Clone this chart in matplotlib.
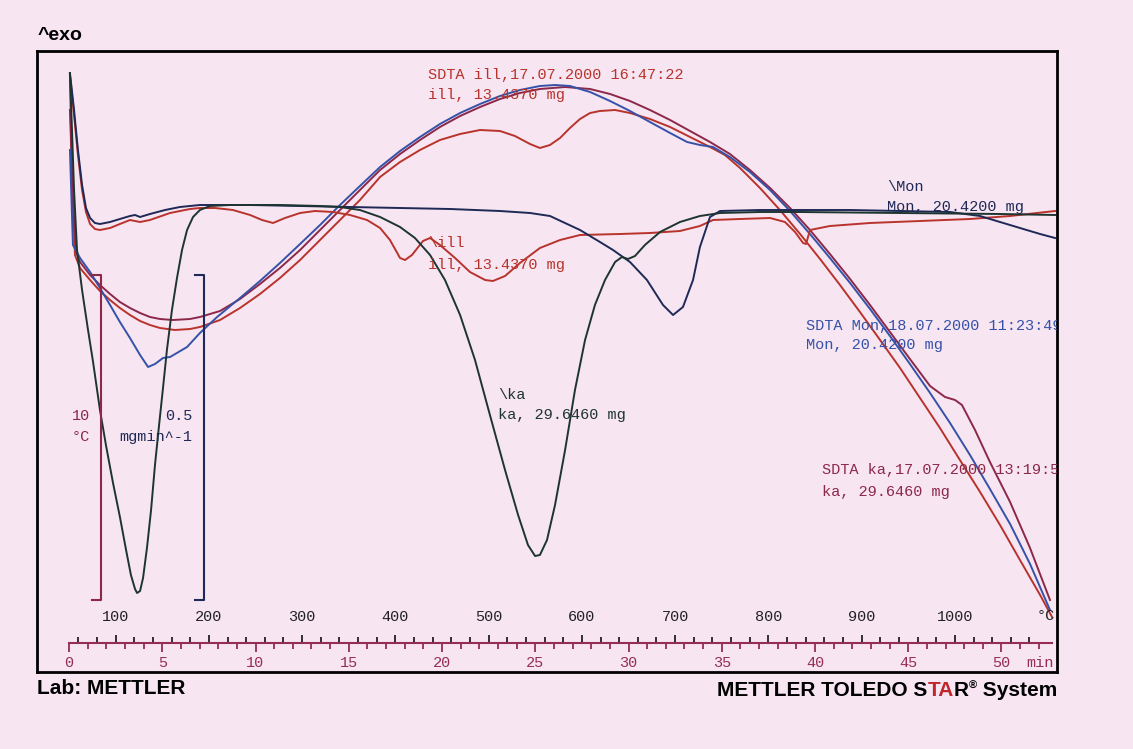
import matplotlib
matplotlib.use('Agg')
import matplotlib.pyplot as plt
import numpy as np
from matplotlib.ticker import FixedLocator
from matplotlib.offsetbox import TextArea, HPacker, AnchoredOffsetbox

plt.rcParams['font.family'] = ['Liberation Mono', 'DejaVu Sans']

# colours of the scanned print
PAPER = '#f7e5f2'
RED = '#b8332b'
MAROON = '#8c2848'
BLUE = '#3552a8'
NAVY = '#1f2956'
DKGREEN = '#1d3531'
RULER = '#962d55'

# time axis (min), heating 20 K/min from 50 C
T_START = 50.0
RATE = 20.0

# ---- SDTA curves (time in min, signal in arbitrary units) ----
sdta_mon_t = [0.05, 0.21, 0.59, 1.13, 1.66, 2.20, 2.73, 3.27, 3.81, 4.24, 4.61, 5.04, 5.42, 6.33,
              7.02, 7.94, 9.17, 10.24, 11.31, 12.39, 13.46, 14.53, 15.60, 16.68, 17.75, 18.82,
              19.89, 20.97, 22.04, 23.11, 24.18, 25.25, 26.06, 26.86, 27.94, 29.01, 30.08, 31.15,
              32.23, 33.14, 33.83, 34.53, 35.44, 36.51, 37.59, 38.66, 39.73, 40.80, 41.88, 42.95,
              44.02, 45.09, 46.17, 47.24, 48.31, 49.38, 50.46, 51.53, 52.60]
sdta_mon_y = [522, 427, 414, 400, 384, 367, 350, 334, 317, 305, 308, 314, 315, 325,
              339, 355, 374, 391, 409, 428, 447, 467, 486, 505, 521, 535,
              548, 559, 568, 576, 582, 586, 587, 586, 580, 571, 561, 550,
              539, 530, 527, 525, 515, 500, 482, 461, 438, 414, 389, 363,
              336, 308, 279, 249, 217, 183, 148, 108, 62]

sdta_ka_t = [0.05, 0.21, 0.38, 0.59, 1.13, 1.66, 2.20, 2.73, 3.27, 3.81, 4.34, 4.88, 5.58, 6.49,
             7.02, 8.10, 9.17, 10.24, 11.31, 12.39, 13.46, 14.53, 15.60, 16.68, 17.75, 18.82,
             19.89, 20.97, 22.04, 23.11, 24.18, 25.25, 26.60, 27.94, 29.01, 30.08, 31.15, 32.23,
             33.30, 34.37, 35.44, 36.51, 37.59, 38.66, 39.73, 40.80, 41.88, 42.95, 44.02, 45.09,
             46.17, 46.97, 47.51, 47.88, 48.58, 49.38, 50.46, 51.53, 52.60]
sdta_ka_y = [562, 472, 420, 410, 397, 387, 378, 370, 364, 359, 355, 353, 352, 353,
             355, 361, 373, 388, 404, 422, 442, 462, 482, 502, 518, 532,
             545, 556, 565, 573, 579, 583, 585, 583, 578, 571, 562, 552,
             541, 530, 518, 502, 484, 464, 442, 418, 393, 367, 340, 313,
             286, 275, 272, 267, 242, 210, 170, 124, 72]

sdta_ill_t = [0.05, 0.16, 0.32, 0.59, 1.13, 1.66, 2.20, 2.73, 3.27, 3.81, 4.34, 4.88, 5.68, 6.49,
              7.02, 8.10, 9.17, 10.24, 11.31, 12.39, 13.46, 14.53, 15.60, 16.68, 17.75, 18.82,
              19.89, 20.97, 22.04, 23.11, 23.91, 24.72, 25.25, 25.79, 26.33, 26.86, 27.40, 27.94,
              28.47, 29.28, 30.08, 31.15, 32.23, 33.30, 34.37, 35.17, 35.98, 37.05, 38.12, 39.20,
              40.27, 41.34, 42.41, 43.49, 44.56, 45.63, 46.70, 47.77, 48.85, 49.92, 50.99, 52.07,
              52.71]
sdta_ill_y = [597, 492, 417, 404, 392, 381, 372, 364, 357, 351, 347, 344, 342, 343,
              345, 352, 364, 378, 394, 412, 432, 452, 472, 495, 510, 522,
              532, 538, 542, 541, 536, 528, 524, 527, 534, 544, 553, 559,
              561, 562, 559, 553, 545, 535, 525, 517, 504, 484, 462, 438,
              413, 387, 360, 332, 304, 274, 244, 212, 180, 147, 112, 77,
              55]

# ---- DTG curves ----
dtg_mon_t = [0.05, 0.27, 0.48, 0.70, 0.91, 1.13, 1.39, 1.66, 2.20, 2.73, 3.27, 3.54, 3.81, 4.34,
             5.15, 5.95, 7.02, 9.71, 12.39, 15.07, 17.75, 20.43, 23.11, 24.72, 25.79, 27.40,
             28.47, 29.17, 30.08, 30.99, 31.85, 32.39, 32.92, 33.46, 33.83, 34.37, 34.91, 37.05,
             39.20, 41.88, 44.56, 47.24, 48.85, 49.92, 50.99, 52.07, 52.87]
dtg_mon_y = [599, 562, 522, 487, 464, 454, 449, 448, 450, 453, 456, 457, 455, 458,
             462, 465, 467, 467, 466, 465, 464, 463, 461, 459, 456, 442,
             430, 422, 410, 392, 367, 357, 365, 392, 425, 455, 461, 462,
             462, 462, 461, 460, 456, 450, 444, 438, 434]

dtg_ill_t = [0.05, 0.27, 0.48, 0.70, 0.91, 1.13, 1.39, 1.66, 2.20, 2.73, 3.27, 3.81, 4.34, 5.42,
             6.49, 7.02, 7.83, 8.79, 9.71, 10.35, 10.94, 11.58, 12.39, 13.19, 14.16, 15.07,
             15.98, 16.68, 17.21, 17.75, 18.02, 18.39, 18.98, 19.36, 19.89, 20.70, 21.50, 22.31,
             22.73, 23.38, 24.18, 25.25, 26.33, 27.40, 29.54, 31.15, 32.76, 33.83, 34.53, 35.98,
             37.59, 38.39, 38.93, 39.36, 39.52, 39.73, 40.80, 42.95, 45.63, 48.31, 50.46, 52.87]
dtg_ill_y = [597, 557, 517, 482, 460, 448, 443, 442, 444, 448, 452, 450, 452, 459,
             463, 464, 464, 462, 457, 452, 449, 454, 459, 461, 460, 457,
             452, 444, 432, 414, 412, 417, 431, 434, 427, 414, 400, 392,
             391, 396, 409, 424, 432, 437, 438, 439, 441, 446, 452, 453,
             454, 450, 440, 429, 428, 442, 446, 449, 451, 453, 456, 461]

dtg_ka_t = [0.05, 0.16, 0.27, 0.43, 0.70, 1.02, 1.29, 1.66, 1.98, 2.36, 2.73, 3.06, 3.32, 3.54,
            3.65, 3.81, 3.97, 4.18, 4.40, 4.61, 4.83, 5.04, 5.25, 5.52, 5.79, 6.06, 6.33,
            6.65, 7.02, 7.56, 8.63, 11.31, 13.46, 14.53, 15.60, 16.68, 17.75, 18.55, 19.36,
            20.16, 20.97, 21.77, 22.57, 23.38, 24.08, 24.61, 24.99, 25.25, 25.63, 26.06, 26.60,
            27.13, 27.67, 28.20, 28.74, 29.28, 29.65, 29.97, 30.35, 30.88, 31.69, 32.76, 33.83,
            34.91, 37.05, 39.20, 44.56, 49.92, 52.87]
dtg_ka_y = [599, 542, 482, 422, 382, 342, 310, 262, 227, 189, 155, 122, 97, 83,
            79, 81, 94, 124, 162, 207, 247, 284, 322, 362, 394, 422, 442,
            455, 462, 466, 467, 467, 466, 465, 462, 455, 445, 434, 417,
            392, 357, 312, 257, 202, 157, 127, 116, 117, 132, 167, 222,
            282, 332, 367, 392, 410, 415, 413, 416, 427, 440, 450, 456,
            459, 460, 460, 459, 458, 457]

# ---- curve captions ----
labels = [
    (19.25, 597, 'SDTA ill,17.07.2000 16:47:22', RED),
    (19.25, 577, 'ill, 13.4370 mg', RED),
    (19.25, 429, '\\ill', RED),
    (19.25, 407, 'ill, 13.4370 mg', RED),
    (43.86, 485, '\\Mon', NAVY),
    (43.86, 465, 'Mon, 20.4200 mg', NAVY),
    (39.52, 346, 'SDTA Mon,18.07.2000 11:23:49', BLUE),
    (39.52, 327, 'Mon, 20.4200 mg', BLUE),
    (23.00, 277, '\\ka', DKGREEN),
    (23.00, 257, 'ka, 29.6460 mg', DKGREEN),
    (40.38, 202, 'SDTA ka,17.07.2000 13:19:52', MAROON),
    (40.38, 180, 'ka, 29.6460 mg', MAROON),
]

# scale bars: 10 C (SDTA) and 0.5 mg/min (DTG)
bar_x = [1.72, 7.24]
bar_tick_x = [1.23, 6.76]
bar_lo, bar_hi = 72, 397
bar_colors = [MAROON, NAVY]

time_major = np.arange(0, 51, 5)
time_minor = np.arange(0, 53, 1)
temp_major = np.arange(100, 1001, 100)
temp_minor = np.arange(60, 1100, 20)

fig = plt.figure(figsize=(11.33, 7.49), dpi=100, facecolor=PAPER)

x_lo, x_hi = -1.716, 52.976
ax = fig.add_axes([37 / 1133, 1 - 672 / 749, 1020 / 1133, 621 / 749])
ax.set_facecolor(PAPER)
ax.set_xlim(x_lo, x_hi)
ax.set_ylim(0, 621)
ax.set_xticks([])
ax.set_yticks([])
for s in ax.spines.values():
    s.set_linewidth(2)
    s.set_color('black')

lw = 1.4
ax.plot(sdta_ill_t, sdta_ill_y, color=RED, lw=lw)
ax.plot(sdta_ka_t, sdta_ka_y, color=MAROON, lw=lw)
ax.plot(sdta_mon_t, sdta_mon_y, color=BLUE, lw=lw)
ax.plot(dtg_ill_t, dtg_ill_y, color=RED, lw=lw)
ax.plot(dtg_mon_t, dtg_mon_y, color=NAVY, lw=lw)
ax.plot(dtg_ka_t, dtg_ka_y, color=DKGREEN, lw=lw)

for x, y, s, c in labels:
    ax.text(x, y, s, color=c, fontsize=11, va='center', ha='left', clip_on=True)

for bx, tx, c in zip(bar_x, bar_tick_x, bar_colors):
    ax.plot([tx, bx, bx, tx], [bar_hi, bar_hi, bar_lo, bar_lo], color=c, lw=1.5)
ax.text(0.16, 256, '10', color=MAROON, fontsize=11, va='center')
ax.text(0.16, 235, '°C', color=MAROON, fontsize=11, va='center')
ax.text(6.60, 256, '0.5', color=NAVY, fontsize=11, va='center', ha='right')
ax.text(6.60, 235, 'mgmin^-1', color=NAVY, fontsize=11, va='center', ha='right')

# ruler with time below and temperature above
axr = fig.add_axes([37 / 1133, 1 - 643 / 749, 1020 / 1133, 0.0001])
axr.set_xlim(x_lo, x_hi)
axr.patch.set_visible(False)
for side in ['left', 'right', 'top']:
    axr.spines[side].set_visible(False)
axr.spines['bottom'].set_color(RULER)
axr.spines['bottom'].set_linewidth(1.5)
axr.spines['bottom'].set_bounds(0, 52.7)
axr.set_yticks([])
axr.set_xticks(time_major)
axr.set_xticks(time_minor, minor=True)
axr.tick_params(axis='x', which='major', length=6.5, width=1.3, color=RULER,
                labelcolor=RULER, labelsize=11, pad=3)
axr.tick_params(axis='x', which='minor', length=4, width=1.3, color=RULER)

sec = axr.secondary_xaxis('top', functions=(lambda t: T_START + RATE * t,
                                            lambda T: (T - T_START) / RATE))
sec.set_xticks(temp_major)
sec.xaxis.set_minor_locator(FixedLocator(temp_minor))
sec.spines['top'].set_visible(False)
sec.tick_params(axis='x', which='major', length=6, width=1.3, color='#222222',
                labelcolor='#222222', labelsize=11, pad=7.5)
sec.tick_params(axis='x', which='minor', length=4, width=1.3, color='#222222')

ax.text(52.39, 56, '°C', color='#222222', fontsize=11, ha='center', va='center')
ax.text(52.07, 9, 'min', color=RULER, fontsize=11, ha='center', va='center')

sans = dict(family=['Liberation Sans', 'DejaVu Sans'], fontweight='bold')
fig.text(38 / 1133, 1 - 35 / 749, '^exo', fontsize=14, va='center', **sans)
fig.text(37 / 1133, 1 - 688 / 749, 'Lab: METTLER', fontsize=15, va='center', **sans)

parts = [('METTLER TOLEDO S', 'black', 15), ('TA', '#c0262b', 15), ('R', 'black', 15),
         ('®', 'black', 8), (' System', 'black', 15)]
box = HPacker(children=[TextArea(s, textprops=dict(color=c, fontsize=f, **sans)) for s, c, f in parts],
              align='top', pad=0, sep=0)
anch = AnchoredOffsetbox(loc='center right', child=box, pad=0, frameon=False, borderpad=0,
                         bbox_to_anchor=(1057 / 1133, 1 - 690 / 749),
                         bbox_transform=fig.transFigure)
fig.add_artist(anch)

fig.savefig('out.png', dpi=100, facecolor=PAPER)
